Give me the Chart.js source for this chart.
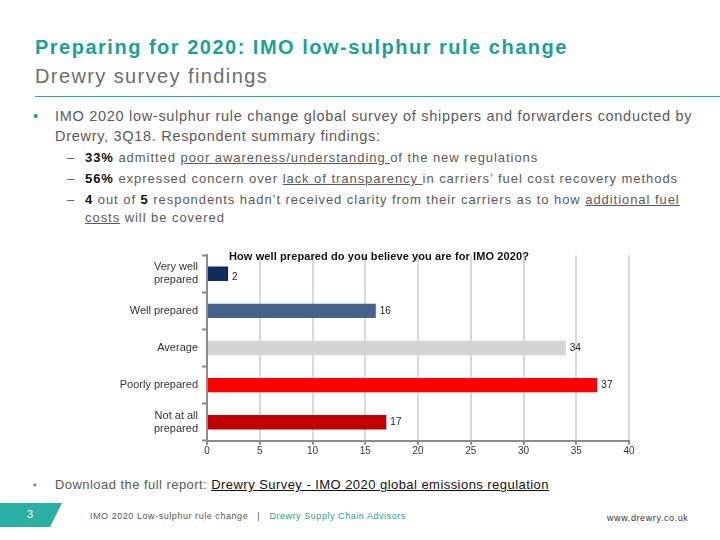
<!DOCTYPE html>
<html>
<head>
<meta charset="utf-8">
<script src="https://cdn.jsdelivr.net/npm/chart.js@4/dist/chart.umd.min.js"></script>
<style>
  body{margin:0;width:720px;height:540px;background:#fff;font-family:"Liberation Sans",Arial,sans-serif;position:relative;overflow:hidden;}
  .abs{position:absolute;white-space:nowrap;}
  #t1{left:35px;top:36px;font-size:20px;font-weight:bold;color:#1aa197;letter-spacing:1.5px;}
  #t2{left:35px;top:65px;font-size:20px;color:#6d6d6d;letter-spacing:1.4px;}
  #rule{left:35px;top:96px;width:685px;height:1px;background:#2aa9a0;}
  .b1{font-size:14.5px;color:#5a5a5a;letter-spacing:0.7px;}
  .b2{font-size:13px;color:#5a5a5a;letter-spacing:0.95px;}
  .b2 b{color:#111;}
  #chartbox{position:absolute;left:100px;top:238px;width:550px;height:220px;}
  #ctitle{left:229px;top:250px;font-size:11px;font-weight:bold;color:#111;letter-spacing:0.1px;}
  .foot{font-size:9px;color:#555;letter-spacing:0.55px;}
</style>
</head>
<body>
<div class="abs" id="t1">Preparing for 2020: IMO low-sulphur rule change</div>
<div class="abs" id="t2">Drewry survey findings</div>
<div class="abs" id="rule"></div>

<div class="abs b1" style="left:33px;top:108px;color:#1aa197;">•</div>
<div class="abs b1" style="left:55px;top:108px;">IMO 2020 low-sulphur rule change global survey of shippers and forwarders conducted by</div>
<div class="abs b1" style="left:55px;top:128px;">Drewry, 3Q18. Respondent summary findings:</div>

<div class="abs b2" style="left:67px;top:150px;">–</div>
<div class="abs b2" style="left:85px;top:150px;"><b>33%</b> admitted <u>poor awareness/understanding </u>of the new regulations</div>
<div class="abs b2" style="left:67px;top:171px;">–</div>
<div class="abs b2" style="left:85px;top:171px;"><b>56%</b> expressed concern over <u>lack of transparency </u>in carriers’ fuel cost recovery methods</div>
<div class="abs b2" style="left:67px;top:192px;">–</div>
<div class="abs b2" style="left:85px;top:192px;"><b>4</b> out of <b>5</b> respondents hadn’t received clarity from their carriers as to how <u>additional fuel</u></div>
<div class="abs b2" style="left:85px;top:210px;"><u>costs</u> will be covered</div>

<div id="chartbox"><canvas id="stage"></canvas></div>
<div class="abs" id="ctitle">How well prepared do you believe you are for IMO 2020?</div>

<div class="abs" style="left:33px;top:479px;font-size:10px;color:#777;">▪</div>
<div class="abs b2" style="left:55px;top:477px;letter-spacing:0.45px;">Download the full report: <u style="color:#111;">Drewry Survey - IMO 2020 global emissions regulation</u></div>

<svg class="abs" style="left:0;top:503px;" width="70" height="26"><polygon points="0,0 62,0 50,24 0,24" fill="#2bb0a6"/></svg>
<div class="abs" style="left:27px;top:508px;color:#fff;font-size:11px;">3</div>
<div class="abs foot" style="left:90px;top:511px;">IMO 2020 Low-sulphur rule change &nbsp;&nbsp;|&nbsp;&nbsp; <span style="color:#1aa197;">Drewry Supply Chain Advisors</span></div>
<div class="abs foot" style="left:607px;top:513px;color:#333;letter-spacing:0.6px;">www.drewry.co.uk</div>

<script>
//カテゴリとデータ
var Labels = [['Very well','prepared'], 'Well prepared', 'Average', 'Poorly prepared', ['Not at all','prepared']];
var Values = [2, 16, 34, 37, 17];
var Colors = ['#0d2d5e', '#44628b', '#d4d4d4', '#ff0000', '#c00000'];
var X_MAX = 40;
var X_STEP = 5;

//バー右側の数値ラベル
var valueLabels = {
  id: 'valueLabels',
  afterDatasetsDraw: function(chart){
    var ctx = chart.ctx;
    var meta = chart.getDatasetMeta(0);
    ctx.save();
    ctx.font = '10px "Liberation Sans", Arial, sans-serif';
    ctx.fillStyle = '#222';
    ctx.textBaseline = 'middle';
    ctx.textAlign = 'left';
    meta.data.forEach(function(bar, i){
      ctx.fillText(String(Values[i]), bar.x + 4, bar.y + (i == 0 ? 3 : 0));
    });
    ctx.restore();
  }
};

var canvas = document.getElementById('stage');
window.myBar = new Chart(canvas, {
  type: 'bar',
  data: {
    labels: Labels,
    datasets: [{
      data: Values,
      backgroundColor: Colors,
      borderWidth: 0,
      barPercentage: 0.39,
      categoryPercentage: 1.0
    }]
  },
  options: {
    indexAxis: 'y',
    responsive: true,
    maintainAspectRatio: false,
    animation: false,
    layout: { padding: { top: 4, right: 21, left: 0, bottom: 0 } },
    plugins: { legend: { display: false }, tooltip: { enabled: false } },
    scales: {
      x: {
        min: 0, max: X_MAX,
        ticks: { stepSize: X_STEP, color: '#333', font: { size: 10, family: '"Liberation Sans", Arial, sans-serif' }, padding: 0 },
        grid: { color: '#d9d9d9', lineWidth: 2, tickLength: 4, tickColor: '#8c8c8c', tickWidth: 2 },
        border: { color: '#8c8c8c', width: 2 }
      },
      y: {
        afterFit: function(s){ s.width = 107; },
        ticks: { color: '#333', font: { size: 11, family: '"Liberation Sans", Arial, sans-serif' }, padding: 4 },
        grid: { drawOnChartArea: false, offset: true, tickLength: 5, tickColor: '#8c8c8c', tickWidth: 2 },
        border: { color: '#8c8c8c', width: 2 }
      }
    }
  },
  plugins: [valueLabels]
});
</script>
</body>
</html>
